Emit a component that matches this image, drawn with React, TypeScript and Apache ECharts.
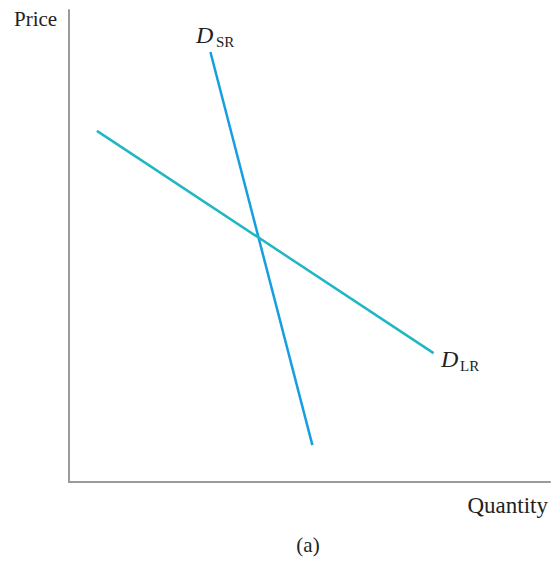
import React, { useEffect, useRef } from "react";
import * as echarts from "echarts";

const xRange = [0, 100];
const yRange = [0, 100];
const shortRunDemand: [number, number][] = [
  [29.4, 91.1],
  [50.6, 7.8],
];
const longRunDemand: [number, number][] = [
  [5.8, 74.4],
  [75.8, 27.3],
];
const yAxisTitle = "Price";
const xAxisTitle = "Quantity";
const panelLabel = "(a)";
const curveLabels = [
  { main: "D", sub: "SR" },
  { main: "D", sub: "LR" },
];

const FONT = "'Liberation Serif', 'Times New Roman', serif";
const TXT = "#222";

export default function App() {
  const ref = useRef<HTMLDivElement>(null);
  useEffect(() => {
    if (!ref.current) return;
    const chart = echarts.init(ref.current, null, { renderer: "svg" });
    chart.setOption({
      animation: false,
      backgroundColor: "#fff",
      grid: { left: 69, top: 10, right: 6, bottom: 79 },
      xAxis: {
        type: "value",
        min: xRange[0],
        max: xRange[1],
        axisLine: { show: true, lineStyle: { color: "#9a9a9a", width: 2 } },
        axisTick: { show: false },
        axisLabel: { show: false },
        splitLine: { show: false },
      },
      yAxis: {
        type: "value",
        min: yRange[0],
        max: yRange[1],
        axisLine: { show: true, lineStyle: { color: "#9a9a9a", width: 2 } },
        axisTick: { show: false },
        axisLabel: { show: false },
        splitLine: { show: false },
      },
      series: [
        {
          type: "line",
          data: shortRunDemand,
          symbol: "none",
          lineStyle: { color: "#159fe0", width: 2.5 },
        },
        {
          type: "line",
          data: longRunDemand,
          symbol: "none",
          lineStyle: { color: "#20b6c3", width: 2.5 },
        },
      ],
      graphic: [
        {
          type: "text",
          x: 14,
          y: 19,
          style: { text: yAxisTitle, font: `21px ${FONT}`, fill: TXT, verticalAlign: "middle", align: "left" },
        },
        {
          type: "text",
          x: 548,
          y: 505,
          style: { text: xAxisTitle, font: `23px ${FONT}`, fill: TXT, verticalAlign: "middle", align: "right" },
        },
        {
          type: "text",
          x: 308,
          y: 545,
          style: { text: panelLabel, font: `21px ${FONT}`, fill: TXT, verticalAlign: "middle", align: "center" },
        },
        {
          type: "text",
          x: 196,
          y: 35,
          style: { text: curveLabels[0].main, font: `italic 24px ${FONT}`, fill: TXT, verticalAlign: "middle", align: "left" },
        },
        {
          type: "text",
          x: 216,
          y: 42,
          style: { text: curveLabels[0].sub, font: `15px ${FONT}`, fill: TXT, verticalAlign: "middle", align: "left" },
        },
        {
          type: "text",
          x: 441,
          y: 359,
          style: { text: curveLabels[1].main, font: `italic 24px ${FONT}`, fill: TXT, verticalAlign: "middle", align: "left" },
        },
        {
          type: "text",
          x: 460,
          y: 366,
          style: { text: curveLabels[1].sub, font: `15px ${FONT}`, fill: TXT, verticalAlign: "middle", align: "left" },
        },
      ],
    });
    return () => chart.dispose();
  }, []);
  return (
    <div
      ref={ref}
      style={{ position: "fixed", left: 0, top: 0, width: 556, height: 561 }}
    />
  );
}
